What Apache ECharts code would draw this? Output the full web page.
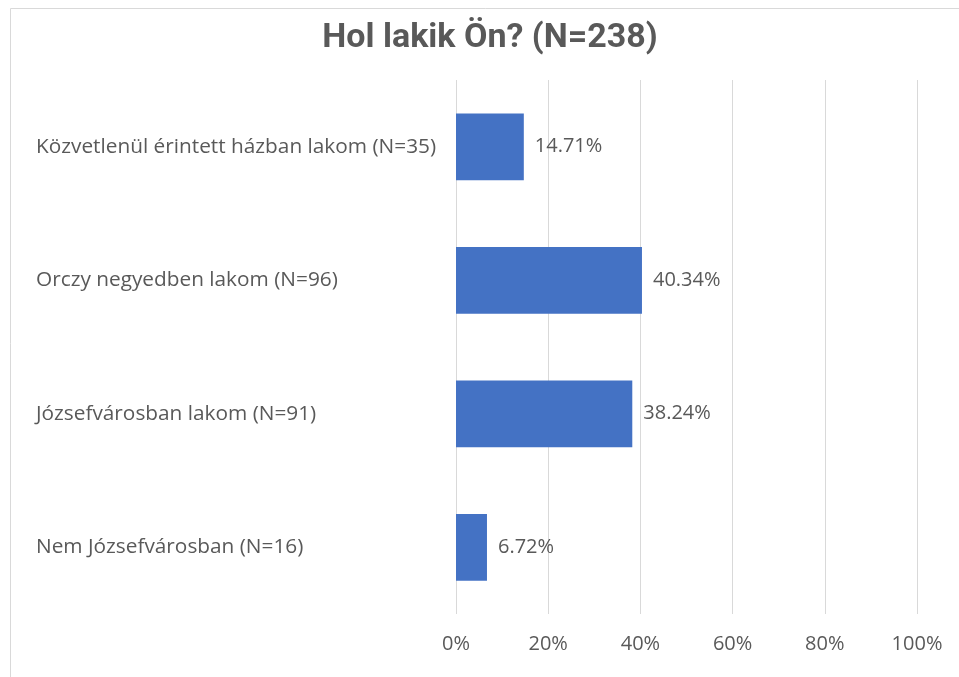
<!DOCTYPE html>
<html>
<head>
<meta charset="utf-8">
<script src="https://cdn.jsdelivr.net/npm/echarts@6/dist/echarts.min.js"></script>
<style>
  html, body { margin: 0; padding: 0; background: #fff; }
  #main { width: 959px; height: 677px; }
</style>
</head>
<body>
<div id="main"></div>
<script>
// kategóriák és értékek (felülről lefelé)
var categories = [
  'Közvetlenül érintett házban lakom (N=35)',
  'Orczy negyedben lakom (N=96)',
  'Józsefvárosban lakom (N=91)',
  'Nem Józsefvárosban (N=16)'
];
var values = [14.71, 40.34, 38.24, 6.72];
var titleText = 'Hol lakik Ön? (N=238)';

var myChart = echarts.init(document.getElementById('main'));
myChart.setOption({
    animation: false,
    graphic: [{
        type: 'rect',
        shape: {x: 10.5, y: 8.5, width: 1200, height: 1200},
        style: {fill: 'none', stroke: '#d9d9d9', lineWidth: 1}
    }],
    title: {
        text: titleText,
        left: 485,
        textAlign: 'center',
        top: 16,
        textStyle: {
            fontFamily: 'Roboto',
            fontWeight: 'bold',
            fontSize: 34,
            color: '#595959'
        }
    },
    grid: {left: 456, right: 42, top: 80, bottom: 63},
    xAxis: {
        type: 'value',
        min: 0,
        max: 100,
        interval: 20,
        axisLine: {show: false},
        axisTick: {show: false},
        splitLine: {lineStyle: {color: '#d9d9d9', width: 1}},
        axisLabel: {
            formatter: '{value}%',
            margin: 20,
            fontFamily: 'Open Sans',
            fontSize: 20,
            color: '#595959'
        }
    },
    yAxis: {
        type: 'category',
        data: categories,
        inverse: true,
        axisLine: {show: false},
        axisTick: {show: false},
        axisLabel: {
            align: 'left',
            margin: 420,
            fontFamily: 'Open Sans',
            fontSize: 20.8,
            color: '#595959'
        }
    },
    series: [{
        type: 'bar',
        data: values,
        barCategoryGap: '50%',
        itemStyle: {color: '#4472C4'},
        label: {
            show: true,
            position: 'right',
            distance: 11,
            formatter: function (p) { return p.value.toFixed(2) + '%'; },
            fontFamily: 'Open Sans',
            fontSize: 20,
            color: '#595959'
        }
    }]
});
</script>
</body>
</html>
